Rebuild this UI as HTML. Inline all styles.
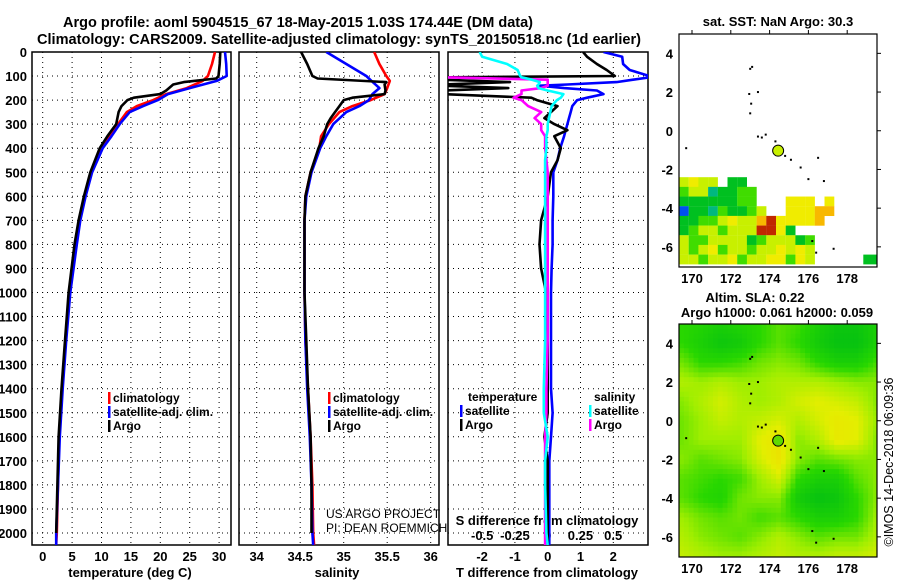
<!DOCTYPE html>
<html><head><meta charset="utf-8"><style>
html,body{margin:0;padding:0;background:#fff;}
svg{display:block;font-family:"Liberation Sans",sans-serif;}
.tk{font-size:13px;font-weight:bold;fill:#000;}
.lg{font-size:12px;font-weight:bold;fill:#000;}
</style></head><body>
<svg id="fig" width="900" height="580" viewBox="0 0 900 580">
<defs>
<clipPath id="c1"><rect x="32" y="52" width="199" height="493"/></clipPath>
<clipPath id="c2"><rect x="239" y="52" width="200" height="493"/></clipPath>
<clipPath id="c3"><rect x="448" y="52" width="200" height="493"/></clipPath>
<clipPath id="cm1"><rect x="679" y="34" width="198" height="233"/></clipPath>
<clipPath id="cm2"><rect x="679" y="324" width="198" height="233"/></clipPath>
</defs>
<text x="63" y="27" font-size="14.5" font-weight="bold" textLength="470" lengthAdjust="spacingAndGlyphs">Argo profile: aoml 5904515_67 18-May-2015 1.03S 174.44E (DM data)</text>
<text x="37" y="44" font-size="14.5" font-weight="bold" textLength="604" lengthAdjust="spacingAndGlyphs">Climatology: CARS2009. Satellite-adjusted climatology: synTS_20150518.nc (1d earlier)</text>
<g id="g1"></g>
<g id="g2"></g>
<g id="g3"></g>
<g id="m1"></g>
<g id="m2"></g>
<text x="0" y="0" transform="translate(893,462) rotate(-90)" text-anchor="middle" font-size="12.5">©IMOS 14-Dec-2018 06:09:36</text>
</svg>
<script>
// ---------- data ----------
const depthTicks = [0,100,200,300,400,500,600,700,800,900,1000,1100,1200,1300,1400,1500,1600,1700,1800,1900,2000];
const tempTicks = [0,5,10,15,20,25,30];
const salTicks = [34,34.5,35,35.5,36];
const dTTicks = [-2,-1,0,1,2];
const dSTicks = [-0.5,-0.25,0,0.25,0.5];
const dSTickLabels = ["-0.5","-0.25","0","0.25","0.5"];
const depthC = [0,50,100,120,150,175,200,225,250,300,350,400,500,600,700,800,1000,1200,1400,1600,1800,2000,2050];
const tClim = [29.3,28.8,28.1,27.2,24.5,21,18.8,16,14.3,12.8,11.5,10,8.3,7.2,6.3,5.7,4.6,3.9,3.3,2.8,2.6,2.4,2.3];
const tSat = [31,31.2,31.3,29.6,25,21.3,19.6,17.1,14.8,13.1,11.7,10.2,8.4,7.3,6.4,5.8,4.7,4.0,3.4,2.9,2.6,2.3,2.3];
const sClim = [35.35,35.41,35.49,35.53,35.5,35.47,35.31,35.1,34.95,34.83,34.74,34.72,34.62,34.56,34.55,34.55,34.55,34.56,34.59,34.62,34.64,34.65,34.66];
const sSat = [34.8,35.03,35.26,35.32,35.41,35.33,35.29,35.18,35.03,34.88,34.8,34.73,34.63,34.57,34.55,34.55,34.55,34.56,34.58,34.61,34.63,34.64,34.65];
const depthA = [0,50,100,110,125,135,160,175,190,200,225,250,275,300,350,400,500,600,700,800,1000,1200,1400,1600,1800,2000];
const tArgo = [30.2,30.1,29.9,29.5,24,22.2,21,20,15.5,14.4,13.4,12.9,12.7,12.5,11,9.7,8.1,7.0,6.1,5.4,4.4,3.8,3.2,2.7,2.5,2.3];
const sArgo = [34.51,34.58,34.64,34.7,35.49,35.47,35.48,35.47,35.1,35.0,34.95,34.9,34.85,34.81,34.77,34.71,34.62,34.56,34.55,34.55,34.55,34.57,34.59,34.62,34.63,34.63];
const depthD = [0,20,50,75,100,105,115,125,135,140,150,160,175,190,200,225,250,275,300,325,350,400,450,500,600,700,800,900,1000,1200,1400,1500,1600,1700,1800,2000,2050];
const dTArgo = [1.08,1.2,1.5,1.8,2.05,-3.2,-3.2,-1.15,-3.2,-3.2,-1.2,-3.2,-3.2,-0.5,-0.33,0.3,0.1,-0.1,0.2,0.6,0.2,0.4,0.3,0.1,0,-0.2,-0.25,-0.2,-0.05,0,0,0,-0.1,0,0,0,0];
const dTSat = [1.7,2.27,2.3,2.5,3.1,3.1,2.6,2.1,0.6,-0.23,0.5,1.5,1.7,1.2,0.9,0.75,0.7,0.65,0.6,0.55,0.5,0.38,0.3,0.17,0.17,0.15,0.15,0.12,0.1,0.1,0.1,0.15,0.1,0.05,0.05,0.05,0.05];
const dSSat = [-0.52,-0.5,-0.31,-0.23,-0.21,-0.2,-0.12,-0.06,-0.07,-0.08,-0.07,0.0,0.12,0.1,0.07,0.03,0.02,0.01,0.0,0.0,-0.01,-0.01,-0.02,-0.02,-0.02,-0.02,-0.02,-0.02,-0.02,-0.02,-0.03,-0.03,0.0,-0.02,-0.02,-0.01,0.0];
const dSArgo = [-0.84,-0.83,-0.83,-0.84,-0.85,-0.8,0.0,0.0,0.0,0.0,-0.05,-0.2,-0.2,-0.26,-0.2,-0.15,-0.05,-0.1,-0.05,-0.05,-0.02,-0.02,-0.01,0,0,0,0,0,0,0,-0.01,-0.01,-0.02,-0.02,-0.02,-0.02,-0.02];
const lonTicks = [170,172,174,176,178];
const latTicks = [4,2,0,-2,-4,-6];
const slaGrid = [
[0.3,0.25,0.2,0.25,0.3,0.4,0.35,0.2,0.1,0.1,0.2],
[0.3,0.2,0.1,0.15,0.3,0.4,0.3,0.15,0.05,0.05,0.2],
[0.45,0.3,0.3,0.35,0.45,0.5,0.45,0.3,0.2,0.2,0.35],
[0.6,0.55,0.6,0.55,0.55,0.6,0.6,0.6,0.55,0.5,0.5],
[0.5,0.6,0.7,0.6,0.55,0.6,0.7,0.75,0.7,0.65,0.5],
[0.45,0.55,0.65,0.6,0.65,0.7,0.6,0.7,0.8,0.75,0.55],
[0.45,0.55,0.55,0.55,0.75,0.85,0.5,0.6,0.8,0.75,0.5],
[0.5,0.4,0.45,0.5,0.7,0.85,0.5,0.4,0.45,0.5,0.5],
[0.4,0.35,0.3,0.35,0.55,0.7,0.3,0.2,0.2,0.4,0.5],
[0.4,0.3,0.25,0.45,0.5,0.5,0.15,0.05,0.1,0.3,0.5],
[0.55,0.45,0.4,0.45,0.35,0.4,0.3,0.2,0.2,0.3,0.55],
[0.6,0.5,0.45,0.4,0.5,0.6,0.5,0.4,0.45,0.45,0.6],
[0.65,0.6,0.55,0.55,0.6,0.65,0.6,0.6,0.65,0.65,0.7]];
const sstRows = [
"yYyy.GG..............",
"gyytGGgg.............",
"GGGGGGgg...YYY.Y.....",
"bGGtgGGgy..YYYoo.....",
"GGggyYyyorYYYYo......",
"GgyygyyyrrYG.........",
"yggyyyyGgyyyGg.......",
"ygyYgyygyyYyYy.......",
"yygyyYgyyYYgYy.....GG"];
const islandLon = [173.0,173.1,173.4,172.95,173.05,173.0,173.4,173.6,173.8,174.3,174.5,174.8,175.1,175.6,176.0,176.5,176.8,169.7,176.2,177.3,176.4];
const islandLat = [3.2,3.3,2.0,1.9,1.4,0.9,-0.3,-0.35,-0.2,-0.55,-0.9,-1.3,-1.5,-1.9,-2.5,-1.4,-2.6,-0.9,-5.7,-6.1,-6.3];
const floatLon = 174.44, floatLat = -1.03;

// ---------- helpers ----------
const NS="http://www.w3.org/2000/svg";
function mk(tag,attrs,parent){const e=document.createElementNS(NS,tag);for(const k in attrs)e.setAttribute(k,attrs[k]);parent.appendChild(e);return e;}
const yD = d => 52 + d*0.2405;
const xT = t => 42.7 + t*5.88;
const xS = s => 256.7 + (s-34)*87;
const xDT = v => 547.7 + v*32.8;
const xDS = v => 547.7 + v*131;

function panelFrame(g,x0,x1,xticks,xf,gridX){
  depthTicks.forEach(d=>{
    const l=mk('line',{x1:x0,x2:x1,y1:yD(d),y2:yD(d),stroke:'#000','stroke-width':1,'stroke-dasharray':'1,4'},g);
    
    
  });
  gridX.forEach(v=>{
    const l=mk('line',{x1:xf(v),x2:xf(v),y1:52,y2:545,stroke:'#000','stroke-width':1,'stroke-dasharray':'1,4'},g);
    
    
  });
  const r=mk('rect',{x:x0,y:52,width:x1-x0,height:493,fill:'none',stroke:'#000','stroke-width':1.5},g);
  
  
}
function line(g,xs,ds,xf,color,clip,name,w){
  const pts=xs.map((v,i)=>xf(v).toFixed(1)+','+yD(ds[i]).toFixed(1)).join(' ');
  const p=mk('polyline',{points:pts,fill:'none',stroke:color,'stroke-width':w||2.6,'clip-path':'url(#'+clip+')','stroke-linejoin':'round'},g);
  
  
}
function txt(g,x,y,s,cls,anchor,name){
  const t=mk('text',{x:x,y:y,'class':cls,'text-anchor':anchor||'start'},g);t.textContent=s;
  
  
  return t;
}
function legendEntry(g,xb,y,color,label){
  const b=mk('rect',{x:xb,y:y-10,width:2.5,height:12,fill:color},g);
  
  
  txt(g,xb+5,y,label,'lg','start','legend-entry');
}

// ---------- panel 1 ----------
const g1=document.getElementById('g1');
panelFrame(g1,32,231,tempTicks,xT,tempTicks);
depthTicks.forEach(d=>txt(g1,27,yD(d)+5,String(d),'tk','end','y-tick-label'));
tempTicks.forEach(t=>txt(g1,xT(t),561,String(t),'tk','middle','x-tick-label'));
txt(g1,130,577,'temperature (deg C)','tk','middle','x-axis-title');
line(g1,tClim,depthC,xT,'#ff0000','c1','series-climatology');
line(g1,tSat,depthC,xT,'#0000ff','c1','series-satellite');
line(g1,tArgo,depthA,xT,'#000','c1','series-argo');
legendEntry(g1,108,402,'#ff0000','climatology');
legendEntry(g1,108,416,'#0000ff','satellite-adj. clim.');
legendEntry(g1,108,430,'#000','Argo');

// ---------- panel 2 ----------
const g2=document.getElementById('g2');
panelFrame(g2,239,439,salTicks,xS,salTicks);
salTicks.forEach(s=>txt(g2,xS(s),561,String(s),'tk','middle','x-tick-label'));
txt(g2,337,577,'salinity','tk','middle','x-axis-title');
line(g2,sClim,depthC,xS,'#ff0000','c2','series-climatology');
line(g2,sSat,depthC,xS,'#0000ff','c2','series-satellite');
line(g2,sArgo,depthA,xS,'#000','c2','series-argo');
legendEntry(g2,328,402,'#ff0000','climatology');
legendEntry(g2,328,416,'#0000ff','satellite-adj. clim.');
legendEntry(g2,328,430,'#000','Argo');
const c1=mk('text',{x:326,y:518,'font-size':12},g2);c1.textContent='US ARGO PROJECT';


const c2=mk('text',{x:326,y:532,'font-size':12},g2);c2.textContent='PI: DEAN ROEMMICH';



// ---------- panel 3 ----------
const g3=document.getElementById('g3');
panelFrame(g3,448,648,dTTicks,xDT,dTTicks);
dTTicks.forEach(v=>txt(g3,xDT(v),561,String(v),'tk','middle','x-tick-label'));
txt(g3,547,577,'T difference from climatology','tk','middle','x-axis-title');
txt(g3,547,525,'S difference from climatology','tk','middle','s-axis-title');
dSTicks.forEach((v,i)=>txt(g3,xDS(v),540,dSTickLabels[i],'tk','middle','s-tick-label'));
line(g3,dTSat,depthD,xDT,'#0000ff','c3','series-t-satellite-diff');
line(g3,dTArgo,depthD,xDT,'#000','c3','series-t-argo-diff');
line(g3,dSArgo,depthD,xDS,'#ff00ff','c3','series-s-argo-diff');
line(g3,dSSat,depthD,xDS,'#00ffff','c3','series-s-satellite-diff');
txt(g3,468,401,'temperature','lg','start','legend-title-temperature');
legendEntry(g3,460,415,'#0000ff','satellite');
legendEntry(g3,460,429,'#000','Argo');
txt(g3,594,401,'salinity','lg','start','legend-title-salinity');
legendEntry(g3,589,415,'#00ffff','satellite');
legendEntry(g3,589,429,'#ff00ff','Argo');

// ---------- maps ----------
const xL = lon => 679 + (lon-169.33)*19.4;
function mapFrame(g,top,clip,title1,title2){
  const yL = lat => top + (5-lat)*19.35;
  return yL;
}
function mapAxes(g,top,yL){
  const r=mk('rect',{x:679,y:top,width:198,height:233,fill:'none',stroke:'#000','stroke-width':1.2},g);
  
  
  latTicks.forEach(la=>{
    txt(g,673,yL(la)+5,String(la),'tk','end','lat-tick-label');
    mk('line',{x1:877,x2:881,y1:yL(la),y2:yL(la),stroke:'#000'},g);
  });
  lonTicks.forEach(lo=>{
    txt(g,xL(lo),top+249,String(lo),'tk','middle','lon-tick-label');
    mk('line',{x1:xL(lo),x2:xL(lo),y1:top,y2:top-4,stroke:'#000'},g);
  });
}
function islands(g,yL,clip){
  islandLon.forEach((lo,i)=>{
    const d=mk('rect',{x:xL(lo)-1,y:yL(islandLat[i])-1,width:2,height:2,fill:'#000','clip-path':'url(#'+clip+')'},g);
    
    
  });
}
function floatMark(g,yL,fill){
  const c=mk('circle',{cx:xL(floatLon),cy:yL(floatLat),r:5.5,fill:fill,stroke:'#000','stroke-width':1},g);
  
  
}
// SST map
const m1=document.getElementById('m1');
const yL1=mapFrame(m1,34);
txt(m1,778,26,'sat. SST: NaN Argo: 30.3','tk','middle','sst-map-title');
const sstColors={G:'#00c020',g:'#40dc00',y:'#c8f000',Y:'#f0ec00',o:'#f8b800',r:'#c02800',b:'#0050f0',t:'#00b880'};
sstRows.forEach((row,ri)=>{
  for(let ci=0;ci<row.length;ci++){
    const ch=row[ci]; if(ch==='.')continue;
    const lo=169.33+ci*0.5, la=-2.4-ri*0.5;
    const c=mk('rect',{x:xL(lo),y:yL1(la),width:9.8,height:9.8,fill:sstColors[ch],'clip-path':'url(#cm1)'},m1);
    
    
  }
});
islands(m1,yL1,'cm1');
floatMark(m1,yL1,'#c8f000');
mapAxes(m1,34,yL1);
// SLA map
const m2=document.getElementById('m2');
const yL2=mapFrame(m2,324);
txt(m2,755,302,'Altim. SLA: 0.22','tk','middle','sla-map-title');
txt(m2,777,317,'Argo h1000: 0.061 h2000: 0.059','tk','middle','sla-map-subtitle');
function slaColor(v){
  const stops=[[0,[0,190,20]],[0.3,[40,215,0]],[0.55,[160,238,0]],[0.75,[228,238,0]],[1,[245,210,0]]];
  for(let i=1;i<stops.length;i++){ if(v<=stops[i][0]){const a=stops[i-1],b=stops[i],f=(v-a[0])/(b[0]-a[0]);
    return 'rgb('+a[1].map((c,k)=>Math.round(c+(b[1][k]-c)*f)).join(',')+')';}}
  return 'rgb(245,210,0)';
}
for(let iy=0;iy<48;iy++){for(let ix=0;ix<41;ix++){
  const lo=169.33+ix*0.25, la=5-iy*0.25;
  const gx=Math.min(Math.max(lo+0.125-169.5,0),10), gy=Math.min(Math.max(5-(la-0.125),0),12);
  const x0=Math.min(Math.floor(gx),9), y0=Math.min(Math.floor(gy),11), fx=gx-x0, fy=gy-y0;
  const v=slaGrid[y0][x0]*(1-fx)*(1-fy)+slaGrid[y0][x0+1]*fx*(1-fy)+slaGrid[y0+1][x0]*(1-fx)*fy+slaGrid[y0+1][x0+1]*fx*fy;
  const c=mk('rect',{x:xL(lo).toFixed(1),y:yL2(la).toFixed(1),width:5.2,height:5.2,fill:slaColor(v),'clip-path':'url(#cm2)'},m2);
  
  
}}
islands(m2,yL2,'cm2');
floatMark(m2,yL2,'#60d800');
mapAxes(m2,324,yL2);
</script>
</body></html>
